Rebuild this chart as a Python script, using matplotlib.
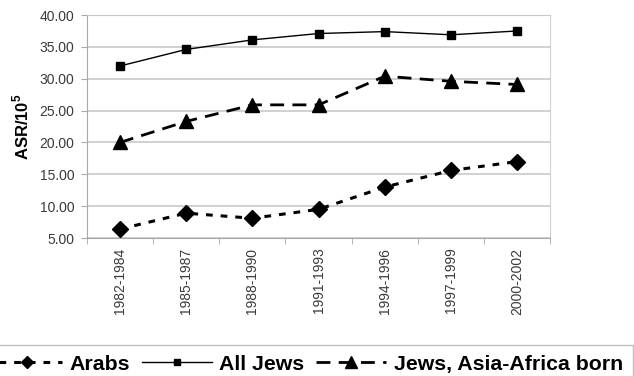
import matplotlib
matplotlib.use("Agg")
import matplotlib.pyplot as plt
import numpy as np

periods = ["1982-1984", "1985-1987", "1988-1990", "1991-1993",
           "1994-1996", "1997-1999", "2000-2002"]
arabs = [6.4, 8.9, 8.1, 9.5, 13.0, 15.6, 17.0]
all_jews = [32.0, 34.6, 36.1, 37.1, 37.4, 36.9, 37.5]
asia_africa = [20.0, 23.3, 25.9, 25.9, 30.4, 29.6, 29.1]
yticks = [5, 10, 15, 20, 25, 30, 35, 40]

plt.rcParams["font.family"] = ["Liberation Sans", "DejaVu Sans"]
plt.rcParams["mathtext.fontset"] = "custom"
plt.rcParams["mathtext.bf"] = "Liberation Sans:bold"
plt.rcParams["mathtext.rm"] = "Liberation Sans"

grey = "#a8a8a8"
fig = plt.figure(figsize=(6.34, 3.76), dpi=100)
ax = fig.add_axes([0.137, 0.367, 0.731, 0.593])

x = np.arange(len(periods))
ax.plot(x, arabs, color="black", lw=2.2, ls=(0, (2.2, 2.6)),
        marker="D", ms=8, label="Arabs")
ax.plot(x, all_jews, color="black", lw=1.0, ls="-",
        marker="s", ms=6, label="All Jews")
ax.plot(x, asia_africa, color="black", lw=2.0, ls=(0, (5, 3)),
        marker="^", ms=10, label="Jews, Asia-Africa born")

ax.set_xlim(-0.5, len(periods) - 0.5)
ax.set_ylim(5, 40)
ax.set_yticks(yticks)
ax.set_yticklabels([f"{v:.2f}" for v in yticks], fontsize=10, color="#3a3a3a")
ax.set_xticks(x)
ax.set_xticklabels(periods, rotation=90, fontsize=10, color="#3a3a3a")
ax.set_xticks(np.arange(-0.5, len(periods)), minor=True)
ax.tick_params(axis="x", which="major", length=0, pad=7)
ax.tick_params(axis="x", which="minor", length=4, color=grey)
ax.tick_params(axis="y", length=4, color=grey, pad=5)
ax.yaxis.grid(True, color="#c8c8c8", lw=1.2)
ax.set_axisbelow(True)
for s in ax.spines.values():
    s.set_color(grey)
ax.spines["top"].set_color("#c8c8c8")
ax.spines["right"].set_color("#d0d0d0")

ax.set_ylabel(r"ASR/10$^{\mathbf{5}}$", fontsize=12, fontweight="bold", labelpad=6)

fig.legend(loc="upper center", bbox_to_anchor=(0.485, 0.110), ncol=3,
           prop={"weight": "bold", "size": 15.3}, frameon=True, fancybox=False,
           edgecolor="#b0b0b0", handlelength=3.3, handletextpad=0.35,
           columnspacing=0.55, borderpad=0.45, markerscale=0.8)

fig.savefig("out.png", dpi=100)
